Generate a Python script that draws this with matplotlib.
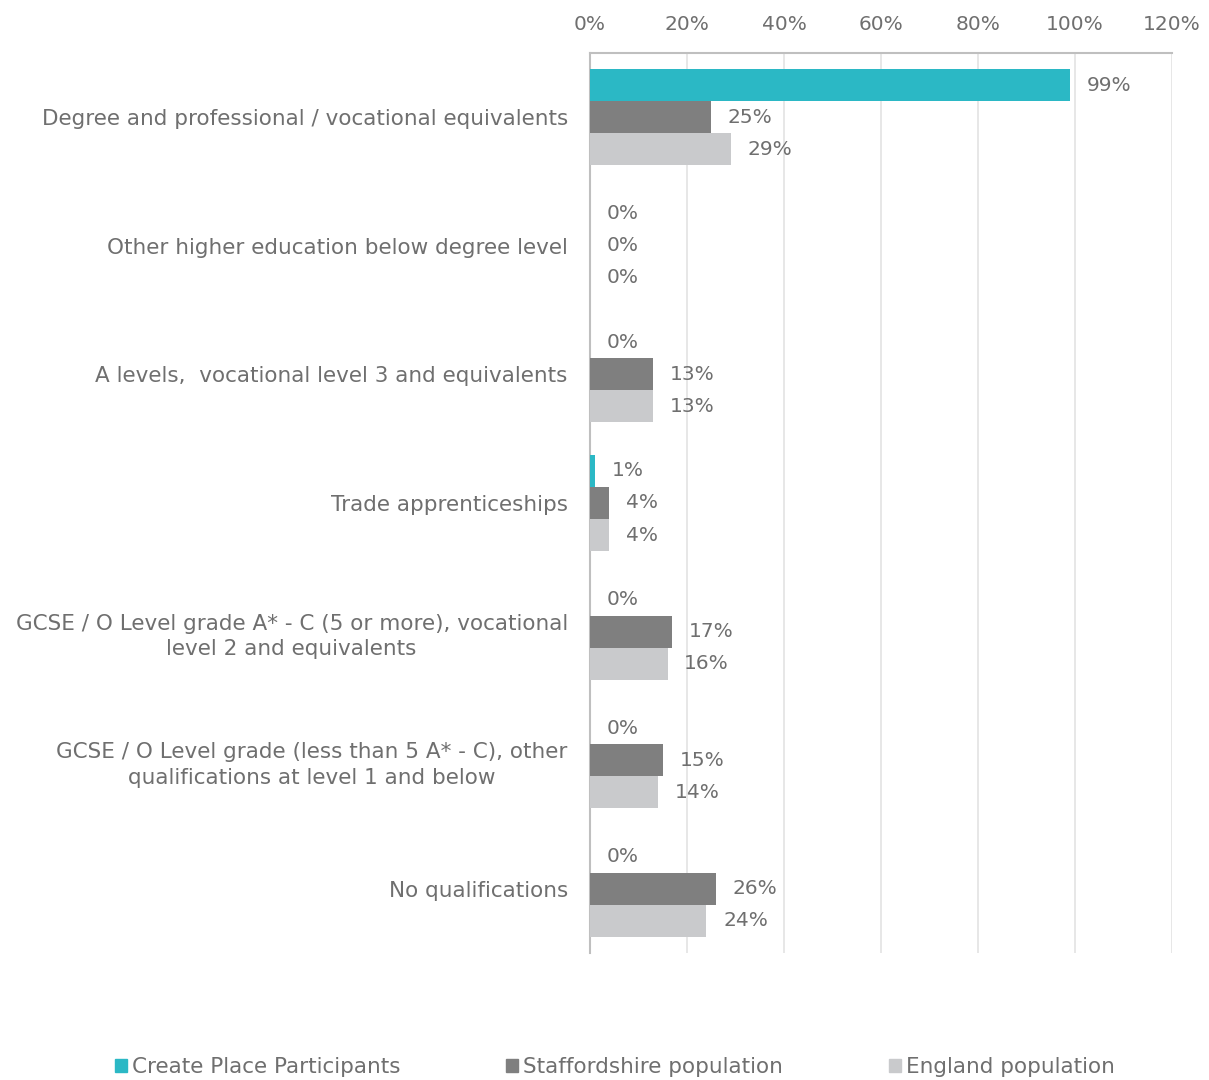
import numpy as np
import matplotlib
matplotlib.use("Agg")
import matplotlib.pyplot as plt
from matplotlib.ticker import PercentFormatter
from matplotlib.patches import Patch

categories = [
    "Degree and professional / vocational equivalents",
    "Other higher education below degree level",
    "A levels,  vocational level 3 and equivalents",
    "Trade apprenticeships",
    "GCSE / O Level grade A* - C (5 or more), vocational\nlevel 2 and equivalents",
    "GCSE / O Level grade (less than 5 A* - C), other\nqualifications at level 1 and below",
    "No qualifications",
]
series_names = ["Create Place Participants", "Staffordshire population", "England population"]
create_place = [99, 0, 0, 1, 0, 0, 0]
staffordshire = [25, 0, 13, 4, 17, 15, 26]
england = [29, 0, 13, 4, 16, 14, 24]
x_ticks = [0, 20, 40, 60, 80, 100, 120]

colors = ["#2bb8c5", "#7f7f7f", "#c9cacc"]
text_color = "#6f6f6f"

plt.rcParams["font.family"] = ["DejaVu Sans"]
fs_num = 14.5
fs_lbl = 15.5

fig = plt.figure(figsize=(12.09, 10.8), dpi=100)
ax = fig.add_axes([590 / 1209, 1 - 953 / 1080, (1172 - 590) / 1209, (953 - 53) / 1080])

y = np.arange(len(categories))
h = 0.249
for i, (vals, c) in enumerate(zip([create_place, staffordshire, england], colors)):
    pos = y + (i - 1) * h
    ax.barh(pos, vals, height=h, color=c, zorder=3)
    for p, v in zip(pos, vals):
        ax.annotate(f"{v}%", (v, p), xytext=(12, 0), textcoords="offset points",
                    va="center", ha="left", fontsize=fs_num, color=text_color)

ax.set_xlim(0, 120)
ax.set_ylim(len(categories) - 0.5, -0.5)
ax.set_xticks(x_ticks)
ax.xaxis.set_major_formatter(PercentFormatter(decimals=0))
ax.xaxis.tick_top()
ax.tick_params(axis="x", length=0, pad=14, labelsize=fs_num, labelcolor=text_color)
ax.set_yticks(y)
ax.set_yticklabels(categories)
ax.tick_params(axis="y", length=0, labelsize=fs_lbl, labelcolor=text_color, pad=16)
for lbl in ax.get_yticklabels():
    lbl.set_horizontalalignment("right")
    lbl.set_multialignment("center")
    lbl.set_linespacing(1.35)

ax.grid(axis="x", color="#e3e3e3", linewidth=1.2, zorder=0)
for s in ["right", "bottom"]:
    ax.spines[s].set_visible(False)
for s in ["left", "top"]:
    ax.spines[s].set_color("#bfbfbf")
    ax.spines[s].set_linewidth(1.5)

handles = [Patch(color=c, label=n) for c, n in zip(colors, series_names)]
fig.legend(handles=handles, loc="center", bbox_to_anchor=(615 / 1209, 1 - 1067 / 1080),
           ncol=3, frameon=False, fontsize=fs_lbl, labelcolor=text_color,
           handlelength=0.55, handleheight=0.55, handletextpad=0.25, columnspacing=4.9)

fig.savefig("out.png", dpi=100)
